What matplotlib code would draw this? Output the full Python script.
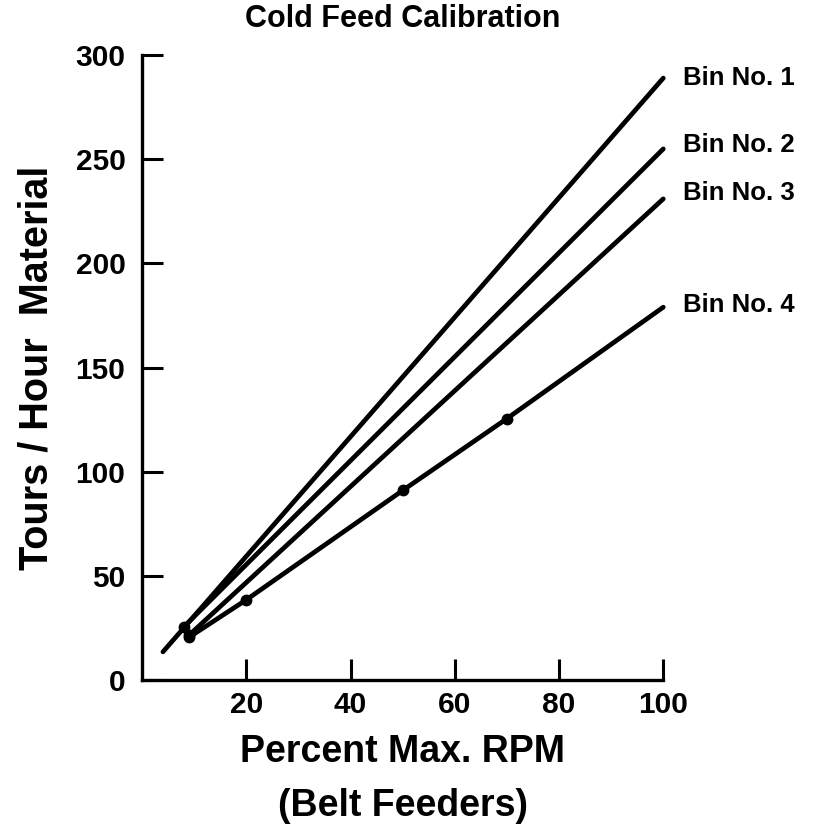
import matplotlib
matplotlib.use("Agg")
import matplotlib.pyplot as plt

plt.rcParams['font.family'] = ['Liberation Sans', 'DejaVu Sans']

# Feeder speed (% of max RPM) vs. delivered tons/hour for each cold-feed bin
bin1_x = [4, 100]
bin1_y = [13.5, 289]
bin2_x = [8, 100]
bin2_y = [25.5, 255]
bin3_x = [9, 100]
bin3_y = [21.5, 231]
bin4_x = [9, 20, 50, 70, 100]
bin4_y = [20.5, 38.5, 91, 125.5, 179]

bin_labels = ["Bin No. 1", "Bin No. 2", "Bin No. 3", "Bin No. 4"]
label_y = [289, 257, 234, 180]

x_ticks = [20, 40, 60, 80, 100]
y_ticks = [0, 50, 100, 150, 200, 250, 300]

fig = plt.figure(figsize=(8.26, 8.32), dpi=100)
ax = fig.add_axes([0.172, 0.1827, 0.631, 0.751])

line_kw = dict(color="black", lw=3.4, solid_capstyle="round", clip_on=False)
ax.plot(bin1_x, bin1_y, **line_kw)
ax.plot(bin2_x, bin2_y, **line_kw)
ax.plot(bin3_x, bin3_y, **line_kw)
ax.plot(bin4_x, bin4_y, **line_kw)

# measured points
ax.plot(bin4_x[:-1], bin4_y[:-1], "o", color="black", ms=7.5, clip_on=False)
ax.plot([bin2_x[0], bin3_x[0]], [bin2_y[0], bin3_y[0]], "o", color="black", ms=7.5, clip_on=False)

for lab, ly in zip(bin_labels, label_y):
    ax.text(103.8, ly, lab, fontsize=18.5, fontweight="bold", va="center", ha="left")

ax.set_xlim(0, 100)
ax.set_ylim(0, 300)
ax.set_xticks(x_ticks)
ax.set_yticks(y_ticks)
ax.tick_params(direction="in", length=15, width=2.2, labelsize=21.5)
ax.tick_params(axis="x", pad=8)
ax.tick_params(axis="y", pad=12)
for lbl in ax.get_xticklabels() + ax.get_yticklabels():
    lbl.set_fontweight("bold")

for side in ("top", "right"):
    ax.spines[side].set_visible(False)
for side in ("left", "bottom"):
    ax.spines[side].set_linewidth(2.4)

ax.set_title("Cold Feed Calibration", fontsize=22, fontweight="bold", pad=20)
ax.set_ylabel("Tours / Hour  Material", fontsize=28.5, fontweight="bold", labelpad=14)
ax.set_xlabel("Percent Max. RPM\n(Belt Feeders)", fontsize=27, fontweight="bold",
              labelpad=11, linespacing=1.62)

fig.savefig("out.png", dpi=100)
